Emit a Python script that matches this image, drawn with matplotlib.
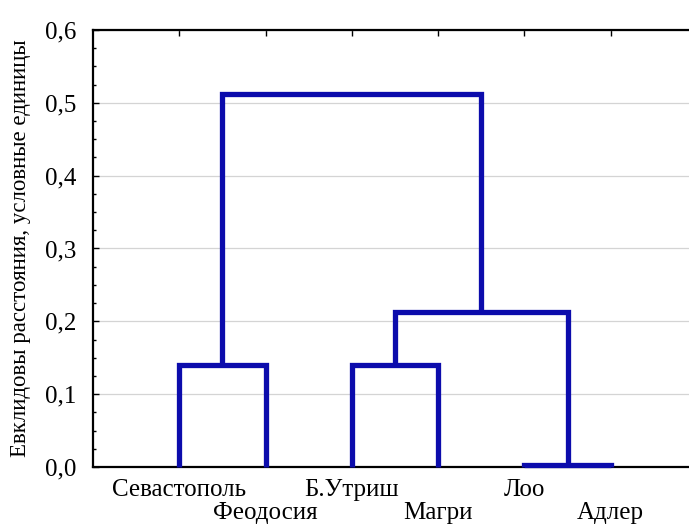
import numpy as np
import matplotlib.pyplot as plt
from matplotlib.ticker import MultipleLocator, FuncFormatter

# leaves in dendrogram order
leaves = ["Севастополь", "Феодосия", "Б.Утриш", "Магри", "Лоо", "Адлер"]

# merges: (child a, child b, height); new cluster ids start at len(leaves)
merge_a = [4, 0, 2, 8, 7]
merge_b = [5, 1, 3, 6, 9]
merge_h = [0.003, 0.14, 0.14, 0.213, 0.512]

plt.rcParams["font.family"] = ["Liberation Serif", "DejaVu Serif"]

fig = plt.figure(figsize=(6.89, 5.25), dpi=100)
# axes run a bit past the right edge, as in the original
ax = fig.add_axes([93 / 689, 58 / 525, 604 / 689, 437 / 525])

line_color = "#0c0cac"
pos = {i: float(i + 1) for i in range(len(leaves))}
hgt = {i: 0.0 for i in range(len(leaves))}
for k, (a, b, h) in enumerate(zip(merge_a, merge_b, merge_h)):
    xa, xb = pos[a], pos[b]
    ax.plot([xa, xa, xb, xb], [hgt[a], h, h, hgt[b]],
            color=line_color, lw=3.8, solid_joinstyle="miter",
            solid_capstyle="butt", zorder=3, clip_on=False)
    new = len(leaves) + k
    pos[new] = (xa + xb) / 2
    hgt[new] = h

ax.set_xlim(0, len(leaves) + 1)
ax.set_ylim(0, 0.6)

ax.yaxis.set_major_locator(MultipleLocator(0.1))
ax.yaxis.set_minor_locator(MultipleLocator(0.025))
ax.yaxis.set_major_formatter(FuncFormatter(lambda v, p: f"{v:.1f}".replace(".", ",")))
ax.tick_params(axis="y", which="both", direction="in", labelsize=18, pad=12)
ax.tick_params(axis="y", which="major", length=4, width=1)
ax.tick_params(axis="y", which="minor", length=2.5, width=1)
ax.grid(axis="y", color="#d4d4d4", lw=0.9)
ax.set_axisbelow(True)

ax.set_xticks([pos[i] for i in range(len(leaves))])
ax.set_xticklabels([])
ax.tick_params(axis="x", which="both", bottom=False, top=True, direction="in",
               length=4, width=1)

for i, name in enumerate(leaves):
    off = 0.052 if i % 2 == 0 else 0.105
    ax.text(pos[i], -off, name, ha="center", va="center", fontsize=18,
            transform=ax.get_xaxis_transform(), clip_on=False)

for s in ax.spines.values():
    s.set_linewidth(1.6)
ax.spines["right"].set_visible(False)

ax.set_ylabel("Евклидовы расстояния, условные единицы", fontsize=16.5, labelpad=10)

fig.savefig("out.png", dpi=100)
